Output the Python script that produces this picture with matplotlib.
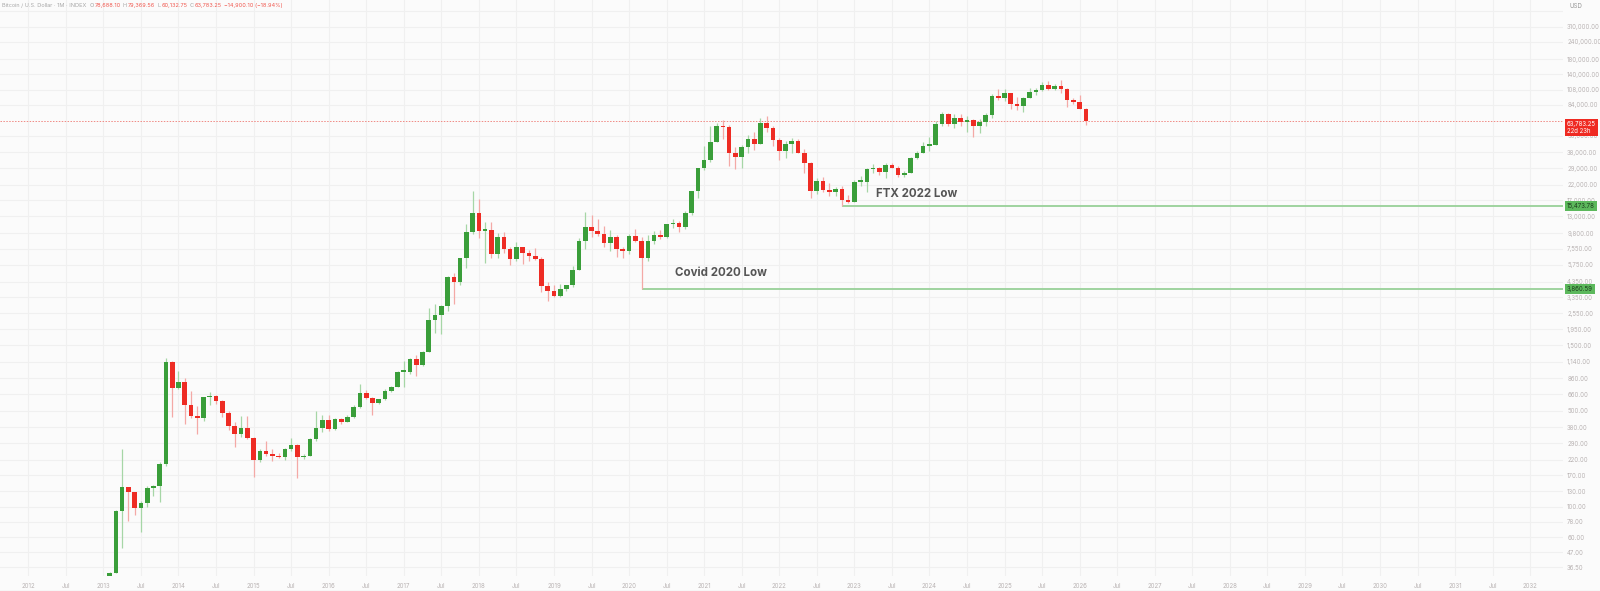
import matplotlib
matplotlib.use("Agg")
import matplotlib.pyplot as plt
import matplotlib.transforms as mtransforms
import numpy as np

# ---------------- data (monthly OHLC, BTC/USD index) ----------------
start_year, start_month = 2013, 2
opens = [
    20.4, 33.4, 93.0, 139.2, 129.0, 97.5, 106.2, 138.0, 141.0, 206.0, 1130.0,
    732, 805, 550, 458, 447, 627, 640, 585, 478, 387, 338, 378,
    318, 218, 254, 244, 236, 230, 263, 284, 230, 236, 312, 378,
    430, 368, 437, 416, 448, 531, 670, 622, 574, 608, 700, 742,
    963, 965, 1190, 1080, 1348, 2300, 2480, 2875, 4700, 4340, 6450, 9900,
    13800, 10200, 10300, 6930, 9240, 7500, 6390, 7730, 7030, 6630, 6320, 4040,
    3700, 3430, 3820, 4100, 5320, 8560, 10800, 10080, 9600, 8300, 9150, 7550,
    7200, 9350, 8550, 6420, 8630, 9450, 9140, 11340, 11650, 10780, 13800, 19700,
    29000, 33100, 45200, 58800, 57700, 37300, 35000, 41500, 47100, 43800, 61300, 57000,
    46300, 38500, 43200, 45500, 37700, 31800, 19900, 23300, 20050, 19430, 20500, 17150,
    16550, 23100, 23150, 28450, 29250, 27200, 30450, 29200, 25900, 26950, 34600, 37700,
    42300, 42600, 61200, 71300, 60600, 67500, 62700, 64600, 59000, 63300, 70200, 96400,
    93400, 102400, 84300, 82500, 94200, 104600, 107100, 115800, 108300, 114100, 109500, 90400,
    87500, 78688.10,
]
highs = [
    33.8, 95.7, 266.0, 140.0, 129.5, 110.0, 142.0, 145.0, 212.0, 1200.0, 1160.0,
    975, 860, 700, 546, 630, 680, 650, 600, 495, 415, 460, 455,
    320, 265, 300, 262, 248, 268, 317, 285, 243, 316, 500, 465,
    465, 445, 440, 467, 550, 780, 705, 625, 612, 715, 755, 980,
    1150, 1200, 1280, 1350, 2790, 2980, 2920, 4750, 5000, 6470, 11400, 19700,
    17200, 11800, 11700, 9800, 9990, 7780, 8500, 7760, 7410, 7680, 6600, 4300,
    4100, 4200, 4100, 5600, 9070, 13880, 13200, 12300, 10950, 10350, 9500, 7750,
    9580, 10500, 9200, 9460, 10070, 10380, 11450, 12470, 12070, 14100, 19900, 29300,
    41950, 58300, 61800, 64800, 59500, 41300, 42400, 50500, 52900, 67000, 69000, 59000,
    48000, 45800, 48200, 47500, 40000, 31950, 24600, 25200, 22800, 21000, 21450, 18400,
    23900, 25250, 29200, 31000, 29800, 31400, 31800, 30100, 27500, 35200, 38400, 44700,
    48900, 64000, 73800, 72800, 71900, 72000, 70000, 65600, 66500, 73600, 99800, 108300,
    109300, 102800, 95000, 95700, 111900, 110600, 123200, 124500, 117900, 126200, 111000, 94600,
    97900, 79369.56,
]
lows = [
    19.6, 33.2, 50.0, 79.0, 88.0, 65.5, 100.0, 120.0, 108.0, 197.0, 450.0,
    720, 400, 445, 340, 420, 550, 560, 450, 365, 275, 325, 310,
    166, 212, 235, 215, 228, 220, 255, 162, 225, 235, 300, 350,
    355, 365, 400, 412, 440, 520, 605, 470, 565, 597, 680, 740,
    750, 920, 890, 1060, 1345, 1850, 1810, 2670, 2980, 4100, 5500, 9600,
    9000, 5900, 6500, 6430, 7050, 5750, 6100, 5880, 6120, 6200, 3650, 3130,
    3380, 3380, 3700, 4000, 5300, 7500, 9100, 9400, 7700, 7300, 6550, 6430,
    6870, 8450, 3860.59, 6150, 8130, 8900, 8980, 10650, 9900, 10400, 13200, 17600,
    28000, 32300, 45000, 47000, 30000, 28800, 29300, 37300, 39600, 43300, 53300, 42000,
    33000, 34300, 37200, 37500, 26700, 17600, 18800, 19600, 18150, 18200, 15473.78, 16300,
    16500, 21400, 19550, 26900, 25800, 24800, 28900, 25200, 24900, 26550, 34100, 37600,
    38500, 42800, 59000, 59100, 56500, 58400, 53500, 49000, 52600, 58900, 66800, 90500,
    89200, 78200, 76600, 74400, 93300, 98200, 105100, 107300, 107300, 102000, 80600, 84400,
    78000, 60132.75,
]
closes = [
    33.4, 93.0, 139.2, 129.0, 97.5, 106.2, 138.0, 141.0, 206.0, 1130.0, 732.0,
    805, 550, 458, 447, 627, 640, 585, 478, 387, 338, 378, 318,
    218, 254, 244, 236, 230, 263, 284, 230, 236, 312, 378, 430,
    368, 437, 416, 448, 531, 670, 622, 574, 608, 700, 742, 963,
    965, 1190, 1080, 1348, 2300, 2480, 2875, 4700, 4340, 6450, 9900, 13800,
    10200, 10300, 6930, 9240, 7500, 6390, 7730, 7030, 6630, 6320, 4040, 3700,
    3430, 3820, 4100, 5320, 8560, 10800, 10080, 9600, 8300, 9150, 7550, 7200,
    9350, 8550, 6420, 8630, 9450, 9140, 11340, 11650, 10780, 13800, 19700, 29000,
    33100, 45200, 58800, 57700, 37300, 35000, 41500, 47100, 43800, 61300, 57000, 46300,
    38500, 43200, 45500, 37700, 31800, 19900, 23300, 20050, 19430, 20500, 17150, 16550,
    23100, 23150, 28450, 29250, 27200, 30450, 29200, 25900, 26950, 34600, 37700, 42300,
    42600, 61200, 71300, 60600, 67500, 62700, 64600, 59000, 63300, 70200, 96400, 93400,
    102400, 84300, 82500, 94200, 104600, 107100, 115800, 108300, 114100, 109500, 90400, 87500,
    78683.35, 63783.25,
]

price_ticks = [400000, 310000, 240000, 180000, 140000, 108000, 84000, 50000, 38000,
               29000, 22000, 17000, 13000, 9800, 7550, 5750, 4350, 3350, 2550, 1950,
               1500, 1140, 860, 660, 500, 380, 290, 220, 170, 130, 100, 78, 60, 47, 36.5]
year_ticks = list(range(2012, 2033))

last_price = 63783.25
countdown = "22d 23h"
ftx_low = 15473.78
ftx_month = (2022, 11)
covid_low = 3860.59
covid_month = (2020, 3)
header_title = "Bitcoin / U.S. Dollar · 1M · INDEX"
header_ohlc = [("O", "78,688.10"), ("H", "79,369.56"), ("L", "60,132.75"), ("C", "63,783.25")]
header_change = "−14,900.10 (−18.94%)"

# ---------------- styling ----------------
BG = "#fbfbfb"
GRID = "#f0f0f0"
UP = "#3a9e3a"
DN = "#ee2c24"
UP_W = "#a6d6a6"
DN_W = "#f4a9a6"
TXT = "#b9b3b3"
FONT = ["Inter", "DejaVu Sans"]
plt.rcParams["font.family"] = FONT

W, H = 1600, 591
fig = plt.figure(figsize=(W / 100, H / 100), dpi=100, facecolor=BG)
ax_left, ax_right_px, ax_bottom_px = 0, 1563, 576
ax = fig.add_axes([0, (H - ax_bottom_px) / H, ax_right_px / W, ax_bottom_px / H])
ax.set_facecolor(BG)


def midx(y, m):
    return (y - 2012) * 12 + (m - 1)


n = len(opens)
xs = np.array([midx(start_year + (start_month - 1 + i) // 12, (start_month - 1 + i) % 12 + 1)
               for i in range(n)], dtype=float)
o = np.array(opens, float)
h = np.array(highs, float)
l = np.array(lows, float)
c = np.array(closes, float)
up = c >= o

ax.set_yscale("log")
ax.set_xlim(-4.52, 245.24)
ax.set_ylim(31.5, 4.84e5)

# grid
for p in price_ticks:
    ax.axhline(p, color=GRID, lw=0.8, zorder=0)
for yr in year_ticks:
    ax.axvline(midx(yr, 1), color=GRID, lw=0.8, zorder=0)
    ax.axvline(midx(yr, 7), color=GRID, lw=0.8, zorder=0)

# wicks
ax.vlines(xs[up], l[up], h[up], color=UP_W, lw=0.9, zorder=2)
ax.vlines(xs[~up], l[~up], h[~up], color=DN_W, lw=0.9, zorder=2)
# bodies
bot = np.minimum(o, c)
top = np.maximum(o, c)
top = np.maximum(top, bot * 1.022)
ax.bar(xs[up], (top - bot)[up], bottom=bot[up], width=0.74, color=UP, zorder=3, linewidth=0)
ax.bar(xs[~up], (top - bot)[~up], bottom=bot[~up], width=0.74, color=DN, zorder=3, linewidth=0)

# last price dotted line
ax.axhline(last_price, color="#f08a84", lw=0.7, ls=(0, (1.5, 1.5)), zorder=1)

# support lines
LINE_G = "#9fd39f"
ax.hlines(ftx_low, midx(*ftx_month), 245.24, color=LINE_G, lw=1.4, zorder=1)
ax.hlines(covid_low, midx(*covid_month), 245.24, color=LINE_G, lw=1.4, zorder=1)

ax.text(midx(*ftx_month) + 5.5, 18800, "FTX 2022 Low", fontsize=8.3, fontweight="bold",
        color="#555555", ha="left", va="center", zorder=5)
ax.text(midx(*covid_month) + 5.3, 5000, "Covid 2020 Low", fontsize=8.3, fontweight="bold",
        color="#555555", ha="left", va="center", zorder=5)

# axes ticks
for s in ax.spines.values():
    s.set_visible(False)
ax.yaxis.tick_right()
ax.set_yticks(price_ticks)
ax.set_yticklabels([f"{p:,.2f}" for p in price_ticks])
ax.yaxis.set_minor_locator(matplotlib.ticker.NullLocator())
ax.tick_params(axis="y", length=0, pad=3, labelsize=4.4, labelcolor=TXT)
xt, xl = [], []
for yr in year_ticks:
    xt.append(midx(yr, 1)); xl.append(str(yr))
    if yr < 2032:
        xt.append(midx(yr, 7)); xl.append("Jul")
ax.set_xticks(xt)
ax.set_xticklabels(xl)
ax.tick_params(axis="x", length=0, pad=5, labelsize=4.4, labelcolor=TXT)
# hide tick label hidden by the last-price label
for lab, p in zip(ax.get_yticklabels(), price_ticks):
    if p == 400000:
        lab.set_visible(False)

blend = mtransforms.blended_transform_factory(ax.transAxes, ax.transData)
ax.text(1.0025, last_price, f"{last_price:,.2f}\n{countdown}", transform=blend, ha="left",
        va="top", fontsize=4.4, color="white", linespacing=1.1, clip_on=False, zorder=6,
        bbox=dict(boxstyle="square,pad=0.35", fc="#ef2a22", ec="none"))
ax.text(1.0025, ftx_low, f"{ftx_low:,.2f}", transform=blend, ha="left", va="center",
        fontsize=4.4, color="#1d3d1d", clip_on=False, zorder=6,
        bbox=dict(boxstyle="square,pad=0.35", fc="#5cb85c", ec="none"))
ax.text(1.0025, covid_low, f"{covid_low:,.2f}", transform=blend, ha="left", va="center",
        fontsize=4.4, color="#1d3d1d", clip_on=False, zorder=6,
        bbox=dict(boxstyle="square,pad=0.35", fc="#5cb85c", ec="none"))

fig.text(1570 / W, 1 - 6 / H, "USD", fontsize=4.4, color="#999999", ha="left", va="center")

# header
fig.canvas.draw()
renderer = fig.canvas.get_renderer()
xpix = 2
ypos = 1 - 5.5 / H


def put(s, col, gap=2.0):
    global xpix
    t = fig.text(xpix / W, ypos, s, fontsize=4.0, color=col, ha="left", va="center")
    bb = t.get_window_extent(renderer=renderer)
    xpix = bb.x1 + gap
    return t


put(header_title, "#a8a8a8", 3)
for k, v in header_ohlc:
    put(k, "#a8a8a8", 0.8)
    put(v, "#f0574e", 2.2)
put(header_change, "#f0574e")

# bottom border
fig.add_artist(plt.Line2D([0, 1], [0.5 / H, 0.5 / H], color="#e6e6e6", lw=1))

fig.savefig("out.png", dpi=100, facecolor=BG)
